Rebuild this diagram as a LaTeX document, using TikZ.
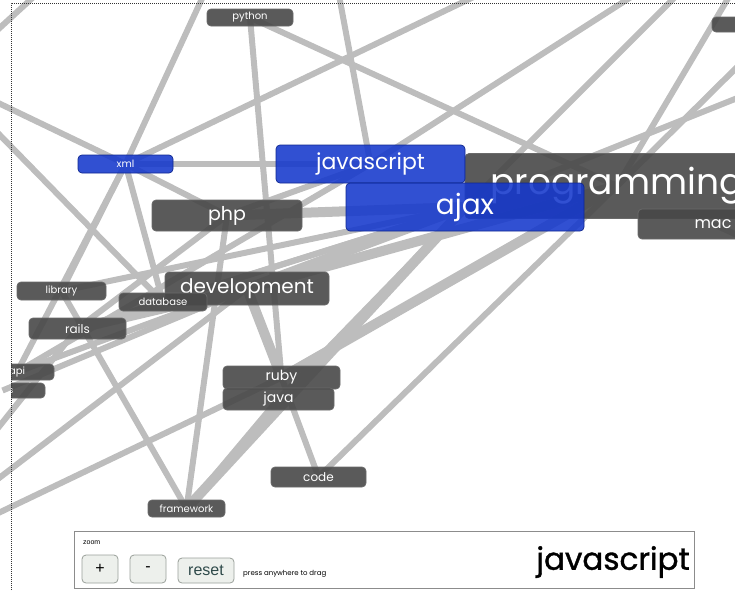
\documentclass[tikz,border=0pt]{standalone}
\usepackage{fontspec}
\setmainfont{Poppins}
\newfontfamily\panelfont{Liberation Sans}
\newfontfamily\heavyfont{Poppins}[FakeBold=1.2]
\pgfdeclarelayer{bg}
\pgfsetlayers{bg,main}
\definecolor{edgegray}{HTML}{BDBDBD}
\definecolor{tagdark}{HTML}{484848}
\definecolor{tagline}{HTML}{6A6A6A}
\definecolor{tagblue}{HTML}{1538CC}
\definecolor{btnfill}{HTML}{EDF0EC}
\definecolor{btnline}{HTML}{9AA09A}
\definecolor{resettext}{HTML}{2F4A4A}
\newcommand{\tagfs}[1]{\fontsize{#1}{#1}\selectfont}
\tikzset{
  tag/.style={rectangle, rounded corners=4pt, fill=tagdark, draw=tagline, line width=0.7pt,
    text=white, inner sep=0pt, fill opacity=0.9, text opacity=1},
  bluetag/.style={tag, fill=tagblue, draw=tagblue!70!black, fill opacity=0.88},
  edge/.style={draw=edgegray, line width=6pt},
  fatedge/.style={draw=edgegray, line width=10pt},
  btn/.style={rectangle, rounded corners=4pt, fill=btnfill, draw=btnline, line width=0.8pt, inner sep=0pt},
}
\begin{document}
\begin{tikzpicture}[x=1pt,y=-1pt]
\useasboundingbox (0,0) rectangle (735,590);
\begin{scope}
\clip (11,3) rectangle (735,590);
% off-screen ends
\coordinate (t1) at (206,-10);
\coordinate (t2) at (484,-8);
\coordinate (t3) at (338,-10);
\coordinate (t4) at (642,-10);
\coordinate (t5) at (682,-10);
\coordinate (t6) at (733,-10);
\coordinate (l1) at (-10,99);
\coordinate (l2) at (-10,125);
\coordinate (l3) at (-10,517);
\coordinate (l4) at (-10,485);
\coordinate (l5) at (-10,438);
\coordinate (r3) at (760,89);
\coordinate (r6) at (770,250);
\coordinate (oA) at (-20,46);
\coordinate (oB) at (40,-9);
% nodes
\node[tag, minimum width=86, minimum height=17, font=\tagfs{10}] (py) at (250,17.5) {python};
\node[tag, minimum width=136, minimum height=15] (tr) at (780,24.5) {};
\node[tag, minimum width=304, minimum height=65, font=\tagfs{36}] (prog) at (617,186) {programming};
\node[bluetag, minimum width=95, minimum height=18, font=\tagfs{10}] (xml) at (125.5,164) {xml};
\node[bluetag, minimum width=189, minimum height=38, font=\tagfs{22}] (js) at (370.5,164) {javascript};
\node[bluetag, minimum width=238, minimum height=48, font=\tagfs{28}] (ajax) at (465,207) {ajax};
\node[tag, minimum width=150, minimum height=30, font=\tagfs{16}] (mac) at (713,224) {mac};
\node[tag, minimum width=150, minimum height=31, font=\tagfs{19}] (php) at (227,215.5) {php};
\node[tag, minimum width=164, minimum height=33, font=\tagfs{20}] (dev) at (247,288.5) {development};
\node[tag, minimum width=89, minimum height=18, font=\tagfs{10}] (lib) at (61.5,291) {library};
\node[tag, minimum width=88, minimum height=18, font=\tagfs{10}] (db) at (163,302) {database};
\node[tag, minimum width=97, minimum height=21, font=\tagfs{12}] (rails) at (77.5,328.5) {rails};
\node[tag, minimum width=74, minimum height=16, font=\tagfs{10}] (api) at (17,372) {api};
\node[tag, minimum width=85, minimum height=15, font=\tagfs{9}] (tools) at (2.5,390.5) {tools};
\node[tag, minimum width=117, minimum height=23, font=\tagfs{14}] (ruby) at (281.5,377.5) {ruby};
\node[tag, minimum width=111, minimum height=22, font=\tagfs{14}] (java) at (278.5,399) {java};
\node[tag, minimum width=95, minimum height=20, font=\tagfs{12}] (code) at (318.5,477) {code};
\node[tag, minimum width=77, minimum height=17, font=\tagfs{10}] (fw) at (186.5,508.5) {framework};
% edges
\begin{pgfonlayer}{bg}
\foreach \a/\b in {xml/t1, xml/l1, xml/t2, xml/js, xml/lib, xml/db, xml/php, l2/db,
  py/ruby, py/prog, js/t3, js/t4, ajax/t5, ajax/r3, prog/tr, prog/t6, mac/r6,
  lib/fw, php/fw, fw/java, code/prog, ruby/code, java/ajax, l3/ruby, l4/dev, l5/rails,
  oA/oB, php/js, lib/ajax, rails/ajax, api/ajax, tools/dev, db/ajax, rails/php, api/js, xml/api}
  \draw[edge] (\a.center) -- (\b.center);
\foreach \a/\b in {fw/ajax, ruby/prog, dev/ajax, dev/prog, php/ajax, dev/ruby, rails/dev}
  \draw[fatedge] (\a.center) -- (\b.center);
\end{pgfonlayer}
\end{scope}
% frame
\draw[dash pattern=on 1pt off 1pt, line width=0.8pt, black!80] (11,590) -- (11,3) -- (735,3);
% control panel
\node[rectangle, fill=white, draw=black!45, line width=0.8pt, minimum width=620, minimum height=57, inner sep=0pt] (panel) at (384,559.5) {};
\node[anchor=west, inner sep=0pt, font=\panelfont\tagfs{7}] (zoomlbl) at (83,543) {zoom};
\node[btn, minimum width=36, minimum height=28, font=\panelfont\tagfs{16}] (plus) at (100,569) {+};
\node[btn, minimum width=36, minimum height=28, font=\panelfont\tagfs{16}] (minus) at (148,569) {-};
\node[btn, minimum width=56, minimum height=25, font=\panelfont\tagfs{16}, text=resettext] (reset) at (206,570.5) {reset};
\node[anchor=west, inner sep=0pt, font=\tagfs{7}] (drag) at (243,574) {press anywhere to drag};
\node[anchor=east, inner sep=0pt, font=\heavyfont\tagfs{31}] (cur) at (690,562) {javascript};
\end{tikzpicture}
\end{document}
